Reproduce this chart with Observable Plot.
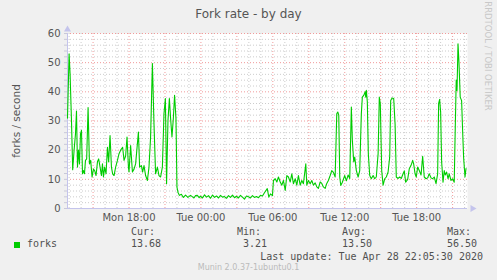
<!DOCTYPE html>
<html><head><meta charset="utf-8">
<script src="https://cdn.jsdelivr.net/npm/d3@7"></script>
<script src="https://cdn.jsdelivr.net/npm/@observablehq/plot@0.6"></script>
<style>
html,body{margin:0;padding:0;background:#f0f0f0;}
#wrap{position:relative;width:497px;height:280px;overflow:hidden;background:#f0f0f0;font-family:"DejaVu Sans",sans-serif;color:#555;}
#wrap svg{position:absolute;left:0;top:0;}
.t{position:absolute;white-space:pre;line-height:1;}
.mono{font-family:"DejaVu Sans Mono",monospace;font-size:10px;color:#505050;}
</style></head><body><div id="wrap"></div>
<script>
// sample times: minutes after Mon 2020-04-27 12:00 UTC
const sampleMinutes = [52,60,65,72,78,85,92,97,102,107,112,117,122,127,132,137,142,148,155,162,168,175,182,188,195,202,208,215,222,227,232,238,245,252,258,265,272,278,285,293,302,310,318,328,335,343,350,357,360,368,377,385,393,407,413,422,428,435,443,452,460,468,477,485,493,502,510,518,527,535,542,548,555,562,568,575,582,588,595,600,605,612,622,632,643,655,668,678,685,693,702,711,718,728,738,748,758,768,778,788,798,808,818,828,838,848,858,868,878,888,898,908,918,928,938,948,958,968,978,988,998,1008,1018,1028,1038,1052,1060,1068,1078,1083,1092,1100,1108,1117,1125,1133,1142,1150,1158,1167,1175,1183,1192,1200,1208,1217,1225,1233,1245,1250,1258,1267,1275,1283,1292,1300,1308,1317,1325,1333,1342,1350,1358,1367,1375,1383,1392,1400,1405,1410,1415,1420,1428,1440,1448,1457,1465,1473,1478,1485,1490,1498,1507,1515,1523,1528,1535,1542,1545,1548,1553,1558,1565,1573,1582,1590,1598,1607,1613,1618,1625,1632,1640,1648,1657,1665,1670,1677,1685,1692,1698,1707,1715,1723,1732,1738,1745,1755,1763,1772,1780,1785,1792,1798,1805,1813,1822,1830,1838,1847,1855,1863,1872,1880,1888,1897,1905,1910,1915,1920,1925,1932,1938,1943,1950,1957,1963,1972,1980,1988,1993,1998,2002,2007,2012,2018,2025,2030,2035,2042,2047];
const forks = [31,53,46,30,13.3,20,25.6,33.4,14.2,20,15.3,25.6,26.8,11.9,13,11.9,16.5,17,34.6,15.3,16.5,10.8,13.5,13,11.3,16,17,14.2,11.3,15.3,10.8,14.2,11.9,21,16,25,14.2,11.9,11.3,14.2,16.5,18.8,20,21,16.5,18,24.5,14.2,12.5,21.6,12.5,13.5,15.3,26.2,14.2,14.7,12.5,14.7,11.3,9.6,14.2,24.5,49.7,29,11.9,14.2,11.3,10.8,14.2,32.5,37.7,8.5,30.2,37.7,31,24.5,31,38.8,31,7.3,5.6,4.5,4.9,3.8,4.6,3.8,4.5,4.0,3.6,4.4,4.5,3.7,4.2,3.6,4.7,3.9,4.4,3.5,4.6,3.8,4.3,3.6,4.5,3.9,4.1,3.5,4.4,3.8,4.6,3.7,4.2,3.6,4.5,3.9,3.21,4.3,4.0,3.6,4.4,3.8,4.1,3.7,4.5,4.3,5.4,6.8,3.9,5.0,4.4,9.6,10.2,9.1,10.8,9.1,8,9.6,6.2,11.3,10.8,9.1,11.9,8.5,10.2,8,11.3,8,9.6,8.5,15.3,8,9.6,8.5,9.6,8,8.8,7.4,6.9,9.1,8.6,7.4,6.9,8.6,9.6,11.3,13,12.4,10.8,32.5,33.1,32,10.8,7.9,9,11.3,9.5,11.5,10.3,34.8,23.4,16,17.6,13,10.8,13,32.5,38.2,38.8,40,38.2,40.5,36.6,18.8,11.3,10.2,11.3,10.2,10.8,18.8,38.2,35.9,13,8,10.2,10.8,12.5,17.6,37,37.9,37.7,29,10.8,10.3,10.8,10.3,11.9,12.9,9,10,13.6,14.8,16.5,15.3,11.9,10.8,14.2,13,11.5,17.9,10.8,10.2,10.5,11.9,10.5,10.2,10.8,8.5,11.9,36,37.4,33,16,9,13,11.5,12.5,10.2,11.9,9.6,10.2,9,26.8,44,40.5,56.5,49.7,38.2,37,26.8,17.6,10.8,13.68];
const xTickTimes = ["2020-04-27T18:00Z","2020-04-28T00:00Z","2020-04-28T06:00Z","2020-04-28T12:00Z","2020-04-28T18:00Z"];
const xTickLabels = ["Mon 18:00","Tue 00:00","Tue 06:00","Tue 12:00","Tue 18:00"];
const yTicks = [0,10,20,30,40,50,60];
const legendHeaders = ["Cur:","Min:","Avg:","Max:"];
const legendValues = ["13.68"," 3.21","13.50","56.50"];
const seriesName = "forks";
const titleText = "Fork rate - by day";
const yLabel = "forks / second";
const lastUpdate = "Last update: Tue Apr 28 22:05:30 2020";
const footer = "Munin 2.0.37-1ubuntu0.1";
const sideText = "RRDTOOL / TOBI OETIKER";

const base = Date.UTC(2020, 3, 27, 12, 0);
const data = sampleMinutes.map((m, i) => ({t: new Date(base + m * 60000), v: forks[i]}));
const xStart = new Date(Date.UTC(2020, 3, 27, 12, 52));
const xEnd = new Date(Date.UTC(2020, 3, 28, 22, 14, 30));
const majorX = d3.utcHour.every(3).range(xStart, xEnd);
const minorX = d3.utcHour.every(1).range(xStart, xEnd).filter(d => d.getUTCHours() % 3 !== 0);
const minorY = d3.range(2, 60, 2).filter(d => d % 10 !== 0);
const allY = d3.range(0, 61, 2);
const labelByTime = new Map(xTickTimes.map((s, i) => [+new Date(s), xTickLabels[i]]));
const tickDates = xTickTimes.map(s => new Date(s));

const green = "#00cc00";
const axisCol = "#c4c4ec";

const chart = Plot.plot({
  width: 497, height: 280,
  marginLeft: 67, marginRight: 30, marginTop: 33, marginBottom: 72,
  style: {background: "transparent", fontFamily: "DejaVu Sans, sans-serif", fontSize: "10px", color: "#555", overflow: "visible"},
  x: {type: "utc", domain: [xStart, xEnd], axis: null, label: null},
  y: {domain: [0, 60], axis: null, label: null},
  marks: [
    Plot.frame({fill: "white", stroke: null}),
    Plot.gridX(minorX, {stroke: "#cccccc", strokeOpacity: 1, strokeDasharray: "1,2"}),
    Plot.gridY(minorY, {stroke: "#cccccc", strokeOpacity: 1, strokeDasharray: "1,2"}),
    Plot.gridX(majorX, {stroke: "#f09a9a", strokeOpacity: 1, strokeDasharray: "1,2"}),
    Plot.gridY(yTicks.filter(d => d > 0), {stroke: "#f09a9a", strokeOpacity: 1, strokeDasharray: "1,2"}),
    Plot.axisY(allY, {tickSize: 3, tickFormat: () => "", stroke: "#c8c8d8", label: null}),
    Plot.ruleY([0], {stroke: axisCol, strokeWidth: 1}),
    Plot.ruleX([xStart], {stroke: axisCol, strokeWidth: 1}),
    Plot.line(data, {x: "t", y: "v", stroke: green, strokeWidth: 1.1}),
    Plot.dot([0], {frameAnchor: "top-left", dy: -4, symbol: "triangle", r: 2.6, fill: axisCol, stroke: null}),
    Plot.dot([0], {frameAnchor: "bottom-right", dx: 5, symbol: "triangle", r: 2.6, rotate: 90, fill: axisCol, stroke: null}),
    Plot.axisY(yTicks, {tickSize: 0, tickPadding: 7, fontSize: 10, fill: "#555", tickFormat: d => String(d), label: null}),
    Plot.axisX(tickDates, {tickSize: 0, tickPadding: 5, fontSize: 10, fill: "#555", tickFormat: d => labelByTime.get(+d), label: null})
  ]
});

const wrap = document.getElementById("wrap");
wrap.appendChild(chart);

function addText(txt, css, cls) {
  const d = document.createElement("div");
  d.className = "t" + (cls ? " " + cls : "");
  d.textContent = txt;
  Object.assign(d.style, css);
  wrap.appendChild(d);
  return d;
}
addText(titleText, {left: "0px", width: "497px", top: "8px", textAlign: "center", fontSize: "12px", color: "#555"});
addText(yLabel, {left: "16px", top: "121px", fontSize: "10.5px", color: "#555", transform: "translate(-50%,-50%) rotate(-90deg)"});
addText(sideText, {left: "488px", top: "56px", fontSize: "8.5px", color: "#c8c8c8", transform: "translate(-50%,-50%) rotate(90deg)"});

const sq = document.createElement("div");
Object.assign(sq.style, {position: "absolute", left: "14px", top: "242px", width: "6px", height: "6px", background: green});
wrap.appendChild(sq);
addText(seriesName, {left: "27px", top: "239px"}, "mono");
const colX = [131, 237, 342, 447];
legendHeaders.forEach((h, i) => addText(h, {left: colX[i] + "px", top: "227px"}, "mono"));
legendValues.forEach((v, i) => addText(v, {left: (colX[i]) + "px", top: "239px"}, "mono"));
addText(lastUpdate, {right: "14px", top: "251.5px"}, "mono");
addText(footer, {left: "0px", width: "497px", textAlign: "center", top: "264px", fontSize: "8px", color: "#bbb"});
</script>
</body></html>
